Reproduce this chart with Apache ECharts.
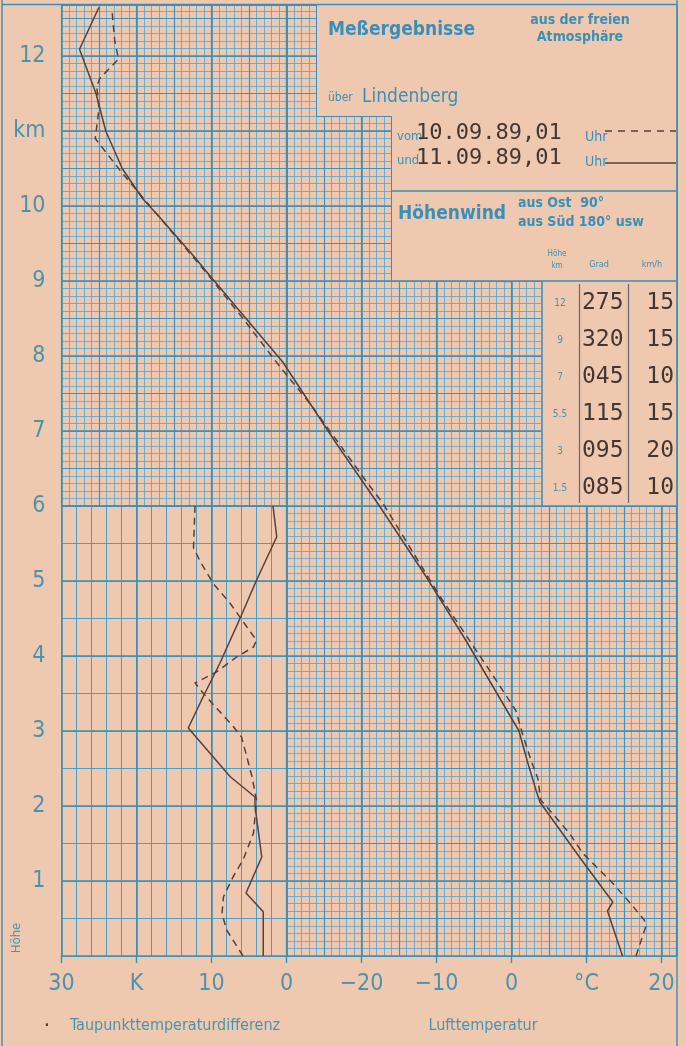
<!DOCTYPE html>
<html><head><meta charset="utf-8">
<script src="https://cdn.jsdelivr.net/npm/echarts@6/dist/echarts.min.js"></script>
<style>html,body{margin:0;padding:0;background:#EFC9AF;}#c{width:686px;height:1046px;}</style>
</head><body><div id="c"></div>
<script>
// ---------------- DATA ----------------
const heightTicks = [1,2,3,4,5,6,7,8,9,10,11,12];
const heightTickLabels = ['1','2','3','4','5','6','7','8','9','10','km','12'];
const xTickValues = [-60,-50,-40,-30,-20,-10,0,10,20];
const xTickLabels = ['30','K','10','0','\u221220','\u221210','0','\u00b0C','20'];

// Lufttemperatur [°C, km]
const temp10Sep = [[16.6,0.0],[17.3,0.21],[17.9,0.39],[17.7,0.48],[15.7,0.72],[13.5,0.97],[11.7,1.15],[9.5,1.37],[7.7,1.64],[3.9,2.08],[3.5,2.37],[2.6,2.61],[1.5,2.95],[0.6,3.27],[-2.4,3.73],[-9.5,4.79],[-10.8,5.0],[-17.1,6.03],[-19.3,6.32],[-26.9,7.37],[-30.9,7.86],[-35.8,8.5],[-40.6,9.1],[-45.0,9.62],[-49.3,10.13],[-52.0,10.45],[-55.5,10.9],[-55.0,11.3],[-55.3,11.59],[-54.9,11.7],[-52.4,11.96],[-52.9,12.2],[-53.3,12.64]];
const temp11Sep = [[14.8,0.0],[12.8,0.6],[13.5,0.72],[9.2,1.3],[3.8,2.05],[3.3,2.2],[2.1,2.6],[1.0,3.0],[-6.1,4.21],[-11.4,5.06],[-17.6,6.0],[-23.4,6.84],[-30.5,7.92],[-40.3,9.08],[-42.1,9.3],[-47.0,9.86],[-49.2,10.1],[-51.9,10.5],[-54.1,11.0],[-55.4,11.5],[-57.6,12.09],[-55.0,12.65]];

// Taupunkttemperaturdifferenz [K, km]
const dew10Sep = [[5.8,0.0],[8.0,0.35],[8.6,0.57],[8.4,0.79],[7.1,1.06],[5.8,1.28],[4.4,1.64],[4.0,2.08],[4.6,2.39],[5.3,2.66],[6.0,2.92],[7.1,3.06],[9.1,3.28],[10.9,3.48],[12.2,3.64],[9.3,3.79],[6.6,3.99],[4.4,4.12],[4.0,4.21],[5.3,4.39],[7.5,4.7],[9.8,4.97],[11.5,5.26],[12.4,5.44],[12.2,6.0]];
const dew11Sep = [[3.1,0.0],[3.1,0.59],[5.4,0.84],[3.3,1.32],[4.2,2.0],[4.2,2.12],[7.5,2.39],[13.1,3.04],[11.1,3.46],[8.9,3.9],[6.2,4.5],[4.0,5.01],[1.3,5.59],[1.8,6.0]];

// Höhenwind
const windHeights = ['12','9','7','5.5','3','1.5'];
const windDirections = ['275','320','045','115','095','085'];
const windSpeeds = ['15','15','10','15','20','10'];
const runDates = ['10.09.89,01','11.09.89,01'];

// ---------------- STYLE ----------------
const PAPER = '#EFC9AF';
const BLUE = '#3A8FBA';
const LABEL = '#4A93AE';
const INK = '#57403A';
const TYPE = '#433633';
const COND = "'Liberation Sans Narrow','DejaVu Sans Condensed','Roboto Condensed','Arial Narrow',Roboto,sans-serif";
const MONO = "'DejaVu Sans Mono','Liberation Mono',monospace";
const fine = {color:'rgba(80,165,210,0.78)', width:1};
const medium = {color:'rgba(55,145,190,0.9)', width:1.2};
const bold = {color:'#3A90B8', width:1.6};
const coarse = {color:'rgba(60,152,198,0.9)', width:1};

const grids = [
  {left:286.5, top:5, width:390, height:951},  // 0 temperature paper
  {left:61.5, top:5, width:225, height:501},   // 1 upper-left paper
  {left:61.5, top:506, width:225, height:450}, // 2 dew point paper
  {left:61.5, top:5, width:615, height:951}    // 3 overlay (data)
];
const xAxes = [], yAxes = [];
function paperAxis(list, g, min, max, interval, style, z, inverse){
  list.push({type:'value', gridIndex:g, min:min, max:max, interval:interval, inverse:!!inverse, z:z, silent:true,
    axisLine:{show:false}, axisTick:{show:false}, axisLabel:{show:false},
    splitLine:{show:true, lineStyle:style}});
}
// grid 0
paperAxis(xAxes,0,-30,22,1,fine,0); paperAxis(xAxes,0,-30,22,5,medium,0.5); paperAxis(xAxes,0,-30,22,10,bold,1);
paperAxis(yAxes,0,0,12.68,0.1,fine,0); paperAxis(yAxes,0,0,12.68,0.5,medium,0.5); paperAxis(yAxes,0,0,12.68,1,bold,1);
// grid 1
paperAxis(xAxes,1,-60,-30,1,fine,0); paperAxis(xAxes,1,-60,-30,5,medium,0.5); paperAxis(xAxes,1,-60,-30,10,bold,1);
paperAxis(yAxes,1,6,12.68,0.1,fine,0); paperAxis(yAxes,1,6,12.68,0.5,medium,0.5); paperAxis(yAxes,1,6,12.68,1,bold,1);
// grid 2 (K axis reversed)
const dewX = xAxes.length;
paperAxis(xAxes,2,0,30,2,coarse,0,true); paperAxis(xAxes,2,0,30,10,bold,1,true);
const dewY = yAxes.length;
paperAxis(yAxes,2,0,6,0.5,coarse,0); paperAxis(yAxes,2,0,6,1,bold,1);
// grid 3 overlay with labels
const tX = xAxes.length;
xAxes.push({type:'value', gridIndex:3, min:-60, max:22, position:'bottom', z:1.5,
  axisLine:{show:false}, splitLine:{show:false},
  axisTick:{show:true, inside:false, length:7, customValues:xTickValues, lineStyle:{color:BLUE, width:1.4}},
  axisLabel:{show:true, customValues:xTickValues, margin:17, color:LABEL, fontSize:23, fontFamily:COND,
    formatter:function(v){const i=xTickValues.indexOf(Math.round(v)); return i>=0?xTickLabels[i]:'';}}});
const tY = yAxes.length;
yAxes.push({type:'value', gridIndex:3, min:0, max:12.68, position:'left', z:1.5,
  axisLine:{show:false}, splitLine:{show:false},
  axisTick:{show:true, inside:false, length:8, customValues:heightTicks, lineStyle:{color:BLUE, width:1.4}},
  axisLabel:{show:true, customValues:heightTicks, margin:16, color:LABEL, fontSize:23, fontFamily:COND,
    formatter:function(v){const i=heightTicks.indexOf(Math.round(v)); return i>=0?heightTickLabels[i]:'';}}});

const lineBase = {type:'line', showSymbol:false, symbol:'none', silent:true, z:5, smooth:false};
const series = [
  {type:'line', xAxisIndex:tX, yAxisIndex:tY, data:[], silent:true, z:3,
   markArea:{silent:true, z:3, label:{show:false}, itemStyle:{color:PAPER, borderWidth:0},
     data:[[{coord:[-26,12.68]},{coord:[22,11.2]}],[{coord:[-16,11.2]},{coord:[22,9.0]}],[{coord:[4,9.0]},{coord:[22,6.0]}]]},
   markLine:{silent:true, z:4, symbol:['none','none'], label:{show:false}, animation:false,
     lineStyle:{color:BLUE, width:1, type:'solid'},
     data:[
       [{coord:[-26,12.68]},{coord:[-26,11.2]}],
       [{coord:[-26,11.2]},{coord:[-16,11.2]}],
       [{coord:[-16,11.2]},{coord:[-16,9.0]}],
       [{coord:[-16,10.2],lineStyle:{width:1.5}},{coord:[22,10.2]}],
       [{coord:[-16,9.0],lineStyle:{width:1.5}},{coord:[22,9.0]}],
       [{coord:[4,9.0],lineStyle:{width:1.5}},{coord:[4,6.0]}],
       [{coord:[4,6.0],lineStyle:{width:1.6}},{coord:[22,6.0]}],
       [{coord:[9,8.96],lineStyle:{width:1.3,color:'#6C6A78'}},{coord:[9,6.04]}],
       [{coord:[15.6,8.96],lineStyle:{width:1.3,color:'#6C6A78'}},{coord:[15.6,6.04]}]
     ]}},
  Object.assign({}, lineBase, {name:'10.09.89', xAxisIndex:tX, yAxisIndex:tY, data:temp10Sep,
    lineStyle:{color:INK, width:1.5, type:[7,5]}}),
  Object.assign({}, lineBase, {name:'11.09.89', xAxisIndex:tX, yAxisIndex:tY, data:temp11Sep,
    lineStyle:{color:INK, width:1.5, type:'solid'}}),
  Object.assign({}, lineBase, {name:'Td 10.09.89', xAxisIndex:dewX, yAxisIndex:dewY, data:dew10Sep,
    lineStyle:{color:INK, width:1.5, type:[7,5]}}),
  Object.assign({}, lineBase, {name:'Td 11.09.89', xAxisIndex:dewX, yAxisIndex:dewY, data:dew11Sep,
    lineStyle:{color:INK, width:1.5, type:'solid'}})
];

function txt(text, x, y, font, fill, align, extra){
  return Object.assign({type:'text', x:x, y:y, z:50, silent:true,
    style:{text:text, font:font, fill:fill, align:align||'left', verticalAlign:'middle'}}, extra||{});
}
const graphics = [
  // frame
  {type:'line', z:60, silent:true, shape:{x1:2, y1:0, x2:2, y2:1046}, style:{stroke:BLUE, lineWidth:1.4}},
  {type:'line', z:60, silent:true, shape:{x1:677, y1:0, x2:677, y2:1046}, style:{stroke:BLUE, lineWidth:1.4}},
  {type:'line', z:60, silent:true, shape:{x1:2, y1:4.5, x2:677, y2:4.5}, style:{stroke:BLUE, lineWidth:1.4}},
  // title block
  txt('Meßergebnisse', 328, 30, 'bold 19px '+COND, BLUE),
  txt('aus der freien', 580, 20, 'bold 14px '+COND, BLUE, 'center'),
  txt('Atmosphäre', 580, 37, 'bold 14px '+COND, BLUE, 'center'),
  txt('über', 328, 98, '12px '+COND, BLUE),
  txt('Lindenberg', 362, 97, '500 19px '+COND, BLUE),
  txt('vom', 397, 137, '13px '+COND, BLUE),
  txt(runDates[0], 416, 133, '22px '+MONO, TYPE),
  txt('Uhr', 585, 137, '14px '+COND, BLUE),
  {type:'line', z:50, silent:true, shape:{x1:605, y1:131, x2:676, y2:131}, style:{stroke:INK, lineWidth:1.6, lineDash:[7,6]}},
  txt('und', 397, 161, '13px '+COND, BLUE),
  txt(runDates[1], 416, 158, '22px '+MONO, TYPE),
  txt('Uhr', 585, 162, '14px '+COND, BLUE),
  {type:'line', z:50, silent:true, shape:{x1:605, y1:163, x2:676, y2:163}, style:{stroke:INK, lineWidth:1.6}},
  txt('Höhenwind', 398, 214, 'bold 19px '+COND, BLUE),
  txt('aus Ost  90°', 518, 203, 'bold 14px '+COND, BLUE),
  txt('aus Süd 180° usw', 518, 222, 'bold 14px '+COND, BLUE),
  txt('Höhe', 557, 254, '8px '+COND, BLUE, 'center'),
  txt('km', 557, 266, '8px '+COND, BLUE, 'center'),
  txt('Grad', 599, 265, '9px '+COND, BLUE, 'center'),
  txt('km/h', 652, 265, '9px '+COND, BLUE, 'center'),
  // bottom captions
  txt('.', 47, 1022, 'bold 14px '+COND, INK, 'center'),
  txt('Taupunkttemperaturdifferenz', 175, 1026, '16px '+COND, LABEL, 'center'),
  txt('Lufttemperatur', 483, 1026, '16px '+COND, LABEL, 'center'),
  txt('Höhe', 17, 938, '13px '+COND, LABEL, 'center', {rotation:Math.PI/2})
];
for (let i=0;i<windHeights.length;i++){
  const yy = 303.5 + i*37;
  graphics.push(txt(windHeights[i], 560, yy, '10px '+COND, LABEL, 'center'));
  graphics.push(txt(windDirections[i], 582, yy, '23px '+MONO, TYPE, 'left'));
  graphics.push(txt(windSpeeds[i], 674, yy, '23px '+MONO, TYPE, 'right'));
}

const chart = echarts.init(document.getElementById('c'), null, {renderer:'canvas'});
chart.setOption({
  backgroundColor: PAPER,
  animation:false,
  grid: grids.map(g => Object.assign({containLabel:false, show:false}, g)),
  xAxis: xAxes,
  yAxis: yAxes,
  series: series,
  graphic: graphics
});
</script></body></html>
